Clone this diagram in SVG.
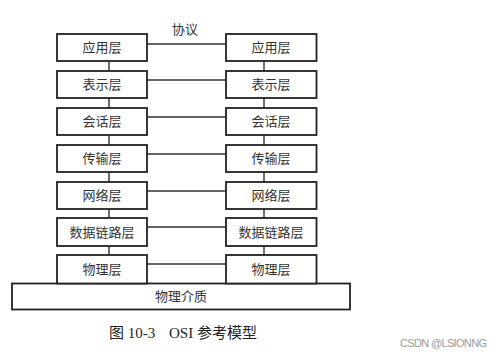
<svg xmlns="http://www.w3.org/2000/svg" width="499" height="355" viewBox="0 0 499 355">
<style>
.box{fill:#fff;stroke:#222;stroke-width:1.8}
.lbl{font-family:"Noto Sans CJK SC","Noto Sans",sans-serif;font-size:13px;fill:#333;text-anchor:middle}
.con{stroke:#333;stroke-width:1.4;fill:none}
.cap{font-family:"Liberation Serif","Noto Sans CJK SC",serif;font-size:15px;fill:#222}
.wm{font-family:"Liberation Sans","Noto Sans",sans-serif;font-size:11px;fill:#9a9a9a}
</style>
<rect width="499" height="355" fill="#fff"/>
<g id="connectors">
<path class="con" d="M147 44H226M147 80H226M147 117H226M147 154H226M147 191H226M147 227H226M147 264H226"/>
<path class="con" d="M109 61V71M109 98V108M109 135V145M109 172V182M109 209V218M109 246V255"/>
<path class="con" d="M264 61V71M264 98V108M264 135V145M264 172V182M264 209V218M264 246V255"/>
</g>
<g id="medium"><rect class="box" x="12" y="283.5" width="338" height="26"/><text class="lbl" x="181" y="301">物理介质</text></g>
<g id="L1"><rect class="box" x="57" y="34" width="90" height="27"/><text class="lbl" x="102" y="52">应用层</text></g>
<g id="L2"><rect class="box" x="57" y="71" width="90" height="27"/><text class="lbl" x="102" y="89">表示层</text></g>
<g id="L3"><rect class="box" x="57" y="108" width="90" height="27"/><text class="lbl" x="102" y="126">会话层</text></g>
<g id="L4"><rect class="box" x="57" y="145" width="90" height="27"/><text class="lbl" x="102" y="163">传输层</text></g>
<g id="L5"><rect class="box" x="57" y="182" width="90" height="27"/><text class="lbl" x="102" y="200">网络层</text></g>
<g id="L6"><rect class="box" x="57" y="218" width="90" height="28"/><text class="lbl" x="102" y="236.5">数据链路层</text></g>
<g id="L7"><rect class="box" x="57" y="255" width="90" height="28.5"/><text class="lbl" x="102" y="273.5">物理层</text></g>
<g id="R1"><rect class="box" x="226" y="34" width="90.5" height="27"/><text class="lbl" x="271" y="52">应用层</text></g>
<g id="R2"><rect class="box" x="226" y="71" width="90.5" height="27"/><text class="lbl" x="271" y="89">表示层</text></g>
<g id="R3"><rect class="box" x="226" y="108" width="90.5" height="27"/><text class="lbl" x="271" y="126">会话层</text></g>
<g id="R4"><rect class="box" x="226" y="145" width="90.5" height="27"/><text class="lbl" x="271" y="163">传输层</text></g>
<g id="R5"><rect class="box" x="226" y="182" width="90.5" height="27"/><text class="lbl" x="271" y="200">网络层</text></g>
<g id="R6"><rect class="box" x="226" y="218" width="90.5" height="28"/><text class="lbl" x="271" y="236.5">数据链路层</text></g>
<g id="R7"><rect class="box" x="226" y="255" width="90.5" height="28.5"/><text class="lbl" x="271" y="273.5">物理层</text></g>
<text class="lbl" x="185" y="34">协议</text>
<text class="cap" x="109" y="338">图 10-3</text>
<text class="cap" x="169" y="338">OSI 参考模型</text>
<text class="wm" x="400" y="347" textLength="87">CSDN @LSIONNG</text>
</svg>
